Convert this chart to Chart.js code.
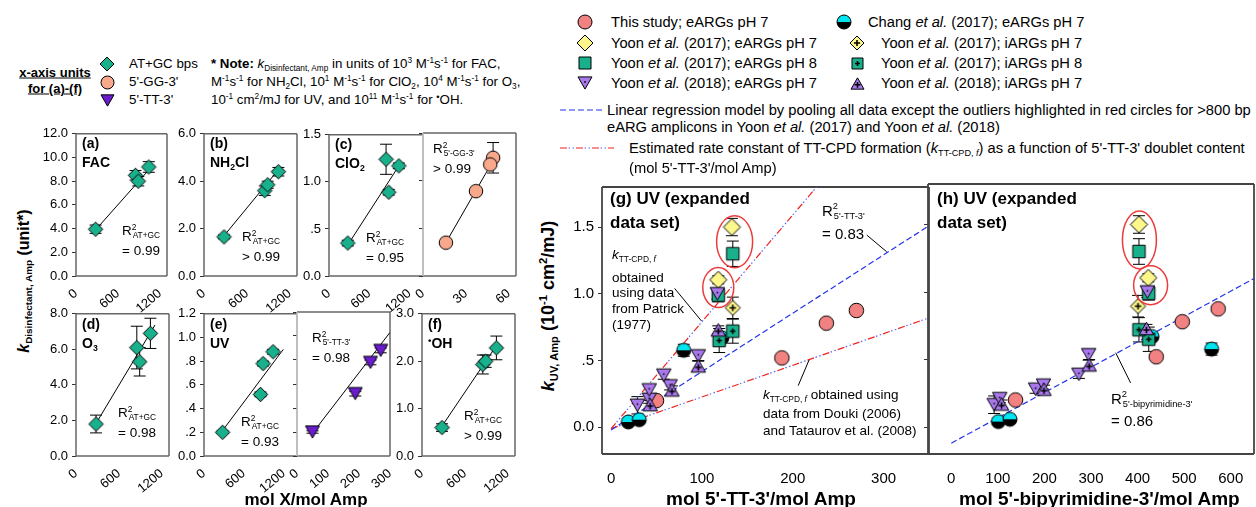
<!DOCTYPE html>
<html>
<head>
<meta charset="utf-8">
<script src="https://cdn.jsdelivr.net/npm/chart.js"></script>
<style>
body{margin:0;width:1256px;height:507px;position:relative;background:#fff;overflow:hidden;
  font-family:"Liberation Sans",Arial,sans-serif;color:#000}
.t{position:absolute;white-space:nowrap;line-height:1;transform:translateY(-50%)}
.c{position:absolute}
sub{font-size:.62em;vertical-align:-.35em;line-height:0}
sup{font-size:.62em;vertical-align:.65em;line-height:0}
.dot{font-size:.7em;vertical-align:.45em;line-height:0}
</style>
</head>
<body>
<script>
// ---------- data: panels (a)-(f), one value per amplicon ----------
var atgc = [280, 850, 890, 1040];   // AT+GC bps
var gg53 = [16, 49, 37, 47];        // 5'-GG-3'
var tt53 = [50, 188, 237, 270];     // 5'-TT-3'

var kFAC = [3.95, 8.5, 8.0, 9.2],      errFAC = [0.35, 0.4, 0.4, 0.45];
var kNH2Cl = [1.65, 3.6, 3.85, 4.4],   errNH2Cl = [0.08, 0.2, 0.15, 0.18];
var kClO2 = [0.35, 1.24, 0.89, 1.17],  errClO2 = [0.03, 0.16, 0.03, 0.03];
var kO3 = [1.8, 6.1, 5.3, 6.9],        errO3 = [0.5, 1.2, 0.8, 0.85];
var kUV = [0.2, 0.52, 0.78, 0.88],     errUV = [0.01, 0.02, 0.02, 0.02];
var kOH = [0.6, 1.93, 2.0, 2.28],      errOH = [0.08, 0.2, 0.13, 0.25];

// regression lines as drawn (end points)
var fitFAC = [[271, 3.83], [1100, 9.35]];
var fitNH2Cl = [[240, 1.55], [1030, 4.45]];
var fitClO2 = [[280, 0.33], [1040, 1.17]];
var fitGG = [[16, 0.35], [49, 1.21]];
var fitO3 = [[256, 1.67], [1104, 7.37]];
var fitUVbp = [[260, 0.2], [1194, 0.9]];
var fitUVtt = [[50, 0.19], [300, 1.03]];
var fitOH = [[266, 0.6], [1049, 2.35]];

// ---------- data: panels (g) and (h) ----------
var thisTT = [50, 188, 237, 270], thisBP = [138, 440, 496, 573], thisK = [0.2, 0.52, 0.78, 0.875];
var changTT = [19, 31, 80, 122], changBP = [101, 126, 559, 431], changK = [0.04, 0.057, 0.577, 0.67];
var changErr = [0.02, 0.02, 0.045, 0.02];
var y17e7TT = [133, 118], y17e7BP = [403, 423], y17e7K = [1.5, 1.105], y17e7Err = [0.065, 0.03];
var y17i7TT = [134], y17i7BP = [401], y17i7K = [0.895], y17i7Err = [0.08];
var y17e8TT = [134, 118], y17e8BP = [403, 424], y17e8K = [1.3, 0.99], y17e8Err = [0.095, 0.05];
var y17i8TT = [119, 134], y17i8BP = [424, 403], y17i8K = [0.65, 0.72], y17i8Err = [0.09, 0.09];
var y18eTT = [29, 42, 42, 65, 58, 96, 117];
var y18eBP = [92, 104, 181, 198, 274, 295, 421];
var y18eK = [0.165, 0.21, 0.28, 0.31, 0.39, 0.535, 1.0];
var y18eErr = [0.065, 0.03, 0.03, 0.03, 0.03, 0.04, 0.04];
var y18iTT = [43, 67, 96, 118], y18iBP = [108, 199, 296, 419], y18iK = [0.17, 0.28, 0.46, 0.73];
var y18iErr = [0.03, 0.03, 0.04, 0.03];

var lineTT = [[0, -0.02], [350, 1.51]];     // pooled regression vs 5'-TT-3'
var linePatrick = [[0, -0.01], [240, 1.91]];
var lineDouki = [[0, -0.01], [350, 0.82]];
var lineBP = [[0, -0.12], [650, 1.10]];     // pooled regression vs bipyrimidine

// tick values
var tk1300 = [0, 600, 1200], tkGG = [0, 30, 60], tkTT = [0, 100, 200, 300];
var tkG = [0, 100, 200, 300], tkH = [0, 100, 200, 300, 400, 500, 600];
var yA = [0, 2, 4, 6, 8, 10, 12], yB = [0, 2, 4, 6], yC = [0, 0.5, 1, 1.5];
var yD = [0, 2, 4, 6, 8], yE = [0, 0.2, 0.4, 0.6, 0.8, 1.0, 1.2], yF = [0, 1, 2, 3];
var yGH = [0, 0.5, 1, 1.5];

// ---------- colours ----------
var teal = '#19b08c', salmon = '#f9a98b', violet = '#6a1ccc', coral = '#f28282',
    yellow = '#fdf68a', lilac = '#a878ec', cyan = '#00e5f0';

Chart.defaults.font.family = '"Liberation Sans", Arial, sans-serif';
Chart.defaults.color = '#000';

function drawMark(g, x, y, kind, fill, size, extra) {
  var r = size / 2;
  g.lineWidth = 1; g.strokeStyle = '#000'; g.fillStyle = fill;
  g.beginPath();
  if (kind == 'circle') g.arc(x, y, r, 0, 2 * Math.PI);
  else if (kind == 'diamond') { g.moveTo(x, y - r); g.lineTo(x + r, y); g.lineTo(x, y + r); g.lineTo(x - r, y); g.closePath(); }
  else if (kind == 'square') g.rect(x - r, y - r, size, size);
  else if (kind == 'down') { var h = size * 0.87; g.moveTo(x - r, y - h / 2); g.lineTo(x + r, y - h / 2); g.lineTo(x, y + h / 2); g.closePath(); }
  else if (kind == 'up') { var h2 = size * 0.87; g.moveTo(x - r, y + h2 / 2); g.lineTo(x + r, y + h2 / 2); g.lineTo(x, y - h2 / 2); g.closePath(); }
  if (kind == 'half') {
    g.fillStyle = '#000'; g.beginPath(); g.arc(x, y, r, 0, Math.PI); g.fill();
    g.fillStyle = fill; g.beginPath(); g.arc(x, y, r, Math.PI, 2 * Math.PI); g.fill();
    g.beginPath(); g.arc(x, y, r, 0, 2 * Math.PI); g.stroke();
    return;
  }
  g.fill(); g.stroke();
  if (extra == 'plus') {
    var p = size * 0.22, cy = kind == 'up' ? y + size * 0.1 : y;
    g.lineWidth = 1.6; g.beginPath();
    g.moveTo(x - p, cy); g.lineTo(x + p, cy); g.moveTo(x, cy - p); g.lineTo(x, cy + p); g.stroke();
  }
  if (extra == 'dot') {
    g.fillStyle = '#000'; g.beginPath(); g.arc(x, y - size * 0.08, 0.9, 0, 2 * Math.PI); g.fill();
  }
}

function mk(kind, fill, size, extra) {
  var c = document.createElement('canvas');
  var s = Math.ceil(size + 4);
  c.width = s; c.height = s;
  drawMark(c.getContext('2d'), s / 2, s / 2, kind, fill, size, extra);
  return c;
}

function icon(x, y, kind, fill, size, extra) {
  var c = mk(kind, fill, size, extra);
  c.className = 'c';
  c.style.left = (x - c.width / 2) + 'px';
  c.style.top = (y - c.height / 2) + 'px';
  document.body.appendChild(c);
}

function txt(x, y, html, css) {
  var d = document.createElement('div');
  d.className = 't';
  d.style.left = x + 'px'; d.style.top = y + 'px';
  d.innerHTML = html;
  if (css) d.style.cssText += css;
  document.body.appendChild(d);
  return d;
}

function pts(xs, ys) { return xs.map(function (x, i) { return {x: x, y: ys[i]}; }); }
function sc(xs, ys, style, errs, order, cap) {
  return {data: pts(xs, ys), pointStyle: style, pointRadius: 7, errs: errs, cap: cap || 6, order: order || 1, showLine: false};
}
function seg(s, color, dash, w, off) {
  return {data: s.map(function (p) { return {x: p[0], y: p[1]}; }), showLine: true, pointRadius: 0,
    borderColor: color || '#000', borderWidth: w || 1, borderDash: dash || [], borderDashOffset: off || 0, order: 20};
}

var framePlugin = {
  id: 'frame',
  beforeDatasetsDraw: function (chart, args, o) {
    var a = chart.chartArea, g = chart.ctx, sides = o.sides || {};
    g.save(); g.lineWidth = o.width || 1.5;
    [['top', a.left, a.top, a.right, a.top], ['bottom', a.left, a.bottom, a.right, a.bottom],
     ['left', a.left, a.top, a.left, a.bottom], ['right', a.right, a.top, a.right, a.bottom]].forEach(function (s) {
      g.strokeStyle = sides[s[0]] || o.color || '#666';
      g.beginPath(); g.moveTo(s[1], s[2]); g.lineTo(s[3], s[4]); g.stroke();
    });
    g.restore();
  }
};

var errPlugin = {
  id: 'errs',
  beforeDatasetsDraw: function (chart) {
    var g = chart.ctx, xs = chart.scales.x, ys = chart.scales.y, a = chart.chartArea;
    g.save(); g.beginPath(); g.rect(a.left, a.top, a.right - a.left, a.bottom - a.top); g.clip();
    g.strokeStyle = '#000'; g.lineWidth = 1;
    chart.data.datasets.forEach(function (ds) {
      if (!ds.errs) return;
      ds.data.forEach(function (p, i) {
        var e = ds.errs[i]; if (!e) return;
        var x = xs.getPixelForValue(p.x), y1 = ys.getPixelForValue(p.y - e), y2 = ys.getPixelForValue(p.y + e), c = ds.cap;
        g.beginPath();
        g.moveTo(x, y1); g.lineTo(x, y2);
        g.moveTo(x - c, y1); g.lineTo(x + c, y1); g.moveTo(x - c, y2); g.lineTo(x + c, y2);
        g.stroke();
      });
    });
    g.restore();
  }
};

var notePlugin = {
  id: 'notes',
  afterDatasetsDraw: function (chart, args, o) {
    var g = chart.ctx, xs = chart.scales.x, ys = chart.scales.y;
    g.save();
    (o.ovals || []).forEach(function (e) {
      g.strokeStyle = '#ec3b3b'; g.lineWidth = 1.5; g.beginPath();
      g.ellipse(xs.getPixelForValue(e.x), ys.getPixelForValue(e.y), e.rx, e.ry, 0, 0, 2 * Math.PI); g.stroke();
    });
    (o.leaders || []).forEach(function (l) {
      g.strokeStyle = '#000'; g.lineWidth = 1; g.beginPath();
      g.moveTo(xs.getPixelForValue(l[0]), ys.getPixelForValue(l[1]));
      g.lineTo(xs.getPixelForValue(l[2]), ys.getPixelForValue(l[3])); g.stroke();
    });
    g.restore();
  }
};

// box = plot area [left, top, right, bottom] on the page
function panel(box, o) {
  var pt = 10, pr = 14, yw = o.yw, xh = o.xh;
  var cv = document.createElement('canvas');
  cv.className = 'c';
  cv.width = box[2] - box[0] + yw + pr; cv.height = box[3] - box[1] + pt + xh;
  cv.style.left = (box[0] - yw) + 'px'; cv.style.top = (box[1] - pt) + 'px';
  document.body.appendChild(cv);
  function setTicks(vals) { return function (s) { s.ticks = vals.map(function (v) { return {value: v}; }); }; }
  new Chart(cv, {
    type: 'scatter',
    data: {datasets: o.datasets},
    options: {
      responsive: false, animation: false, events: [],
      layout: {padding: {top: pt, right: pr, left: 0, bottom: 0}},
      plugins: {legend: {display: false}, tooltip: {enabled: false}, frame: o.frame || {}, notes: o.notes || {}},
      scales: {
        x: {type: 'linear', min: o.x[0], max: o.x[1], afterBuildTicks: setTicks(o.xt),
          afterFit: function (s) { s.height = xh; },
          grid: {display: false}, border: {display: false},
          ticks: {font: {size: o.xf}, color: '#000', minRotation: o.rot, maxRotation: o.rot, padding: o.xpad,
            autoSkip: false, callback: function (v) { return String(v); }}},
        y: {type: 'linear', min: o.y[0], max: o.y[1], afterBuildTicks: setTicks(o.yt),
          afterFit: function (s) { s.width = yw; },
          grid: {display: true, drawOnChartArea: false, drawTicks: true, tickLength: 4, color: '#333'},
          border: {display: false},
          ticks: {display: !!o.ylab, font: {size: o.yf || 13}, color: '#000', padding: 4, autoSkip: false,
            callback: function (v) { return o.ylab ? o.ylab(v) : ''; }}}
      }
    },
    plugins: [framePlugin, errPlugin, notePlugin]
  });
}

function fix1(v) { return v.toFixed(1); }
function dec(v) { return v == 0 ? '0.0' : (v < 1 ? String(v).replace('0.', '.') : v.toFixed(1)); }

var dia = mk('diamond', teal, 14.5), gcirc = mk('circle', salmon, 13.5), vtri = mk('down', violet, 14);
var small = {yw: 40, xh: 40, xf: 13, yf: 13, rot: 40, xpad: 2};
function S(extra) { return Object.assign({}, small, extra); }
var grey = {color: '#666'};
var div = '#bbbbbb';

// (a)
panel([76, 132, 167, 276], S({x: [0, 1300], xt: tk1300, y: [0, 12], yt: yA, ylab: fix1, frame: grey,
  datasets: [sc(atgc, kFAC, dia, errFAC), seg(fitFAC)]}));
// (b)
panel([204, 132, 297, 276], S({x: [0, 1300], xt: tk1300, y: [0, 6], yt: yB, ylab: fix1, frame: grey,
  datasets: [sc(atgc, kNH2Cl, dia, errNH2Cl), seg(fitNH2Cl)]}));
// (c)
panel([329, 133, 423, 276], S({x: [0, 1400], xt: tk1300, y: [0, 1.5], yt: yC, ylab: dec,
  frame: {color: '#666', sides: {right: div}},
  datasets: [sc(atgc, kClO2, dia, errClO2), seg(fitClO2)]}));
panel([423, 133, 516, 276], S({yw: 14, x: [0, 65], xt: tkGG, y: [0, 1.5], yt: yC,
  frame: {color: '#666', sides: {left: div}},
  datasets: [sc(gg53, kClO2, gcirc, [0, 0.16, 0, 0]), seg(fitGG)]}));
// (d)
panel([76, 312, 169, 456], S({x: [0, 1300], xt: tk1300, y: [0, 8], yt: yD, ylab: fix1, frame: grey,
  datasets: [sc(atgc, kO3, dia, errO3), seg(fitO3)]}));
// (e)
panel([204, 312, 297, 456], S({x: [0, 1400], xt: tk1300, y: [0, 1.2], yt: yE, ylab: dec,
  frame: {color: '#666', sides: {right: div}},
  datasets: [sc(atgc, kUV, dia, errUV), seg(fitUVbp)]}));
panel([297, 312, 390, 456], S({yw: 14, x: [0, 300], xt: tkTT, y: [0, 1.2], yt: yE,
  frame: {color: '#666', sides: {left: div}},
  datasets: [sc(tt53, kUV, vtri, errUV), seg(fitUVtt)]}));
// (f)
panel([422, 312, 515, 456], S({x: [0, 1300], xt: tk1300, y: [0, 3], yt: yF, ylab: fix1, frame: grey,
  datasets: [sc(atgc, kOH, dia, errOH), seg(fitOH)]}));

// markers for (g) and (h)
var mThis = mk('circle', coral, 14.5), mChang = mk('half', cyan, 14),
    mY17e7 = mk('diamond', yellow, 17), mY17i7 = mk('diamond', yellow, 15, 'plus'),
    mY17e8 = mk('square', teal, 12.5), mY17i8 = mk('square', teal, 12.5, 'plus'),
    mY18e = mk('down', lilac, 14.5, 'dot'), mY18i = mk('up', lilac, 14.5, 'plus');

function uvSets(xThis, xChang, x1, x2, x3, x4, x5, x6) {
  return [
    sc(xThis, thisK, mThis, null, 9),
    sc(xChang, changK, mChang, changErr, 8),
    sc(x3, y17e8K, mY17e8, y17e8Err, 6),
    sc(x4, y17i8K, mY17i8, y17i8Err, 5),
    sc(x1, y17e7K, mY17e7, y17e7Err, 4),
    sc(x2, y17i7K, mY17i7, y17i7Err, 3),
    sc(x5, y18eK, mY18e, y18eErr, 2),
    sc(x6, y18iK, mY18i, y18iErr, 1)
  ];
}
var big = {yw: 40, xh: 44, xf: 15, yf: 15, rot: 0, xpad: 8};

// (g)
panel([602, 184, 929, 454], Object.assign({}, big, {x: [-10, 350], xt: tkG, y: [-0.2, 1.8], yt: yGH, ylab: dec,
  frame: {color: '#444', width: 1.8},
  notes: {ovals: [{x: 136, y: 1.39, rx: 18, ry: 26}, {x: 118, y: 1.047, rx: 15.5, ry: 20}],
    leaders: [[281.5, 1.44, 303.4, 1.315], [70, 1.04, 99.7, 0.795], [206, 0.312, 218, 0.505]]},
  datasets: uvSets(thisTT, changTT, y17e7TT, y17i7TT, y17e8TT, y17i8TT, y18eTT, y18iTT).concat([
    seg(lineTT, '#2233ee', [6, 3], 1.2),
    seg(linePatrick, '#ee2222', [7, 9], 1.2), seg(linePatrick, '#5566ff', [1.5, 2.5, 1.5, 10.5], 1.2, -8.5),
    seg(lineDouki, '#ee2222', [7, 9], 1.2), seg(lineDouki, '#5566ff', [1.5, 2.5, 1.5, 10.5], 1.2, -8.5)])}));
// (h)
panel([928, 184, 1254, 454], Object.assign({}, big, {yw: 8, x: [-50, 650], xt: tkH, y: [-0.2, 1.8], yt: yGH,
  frame: {color: '#444', width: 1.8},
  notes: {ovals: [{x: 404, y: 1.386, rx: 17, ry: 29}, {x: 428, y: 1.05, rx: 17, ry: 19.5}],
    leaders: [[385, 0.327, 353, 0.55]]},
  datasets: uvSets(thisBP, changBP, y17e7BP, y17i7BP, y17e8BP, y17i8BP, y18eBP, y18iBP).concat([
    seg(lineBP, '#2233ee', [6, 3], 1.2)])}));

// ---------- text: left block ----------
var fs = 'font-size:13.5px;';
var nf = 'font-size:13.3px';
txt(55, 72, 'x-axis units', 'font-size:13px;font-weight:bold;text-decoration:underline;transform:translate(-50%,-50%)');
txt(55, 88, 'for (a)-(f)', 'font-size:13px;font-weight:bold;text-decoration:underline;transform:translate(-50%,-50%)');
icon(107, 64, 'diamond', teal, 14);
icon(107, 82, 'circle', salmon, 13);
icon(107, 100, 'down', violet, 13);
txt(129, 64, 'AT+GC bps', nf);
txt(129, 82, "5'-GG-3'", nf);
txt(129, 100, "5'-TT-3'", nf);
txt(211, 64, '<b>* Note:</b> <i>k</i><sub>Disinfectant, Amp</sub> in units of 10<sup>3</sup> M<sup>-1</sup>s<sup>-1</sup> for FAC,', nf);
txt(211, 82, 'M<sup>-1</sup>s<sup>-1</sup> for NH<sub>2</sub>Cl, 10<sup>1</sup> M<sup>-1</sup>s<sup>-1</sup> for ClO<sub>2</sub>, 10<sup>4</sup> M<sup>-1</sup>s<sup>-1</sup> for O<sub>3</sub>,', nf);
txt(211, 100, '10<sup>-1</sup> cm<sup>2</sup>/mJ for UV, and 10<sup>11</sup> M<sup>-1</sup>s<sup>-1</sup> for <span class="dot">&#8226;</span>OH.', nf);

txt(24, 281, '<i>k</i><sub>Disinfectant, Amp</sub> (unit*)', 'font-size:16px;font-weight:bold;transform:translate(-50%,-50%) rotate(-90deg)');
txt(306, 499, 'mol X/mol Amp', 'font-size:17px;font-weight:bold;transform:translate(-50%,-50%)');

// panel captions and R2 labels
function cap(x, y, a, b) { txt(x, y, a, 'font-size:14px;font-weight:bold'); txt(x, y + 19, b, 'font-size:14px;font-weight:bold'); }
cap(82, 143, '(a)', 'FAC');
cap(210, 143, '(b)', 'NH<sub>2</sub>Cl');
cap(335, 144, '(c)', 'ClO<sub>2</sub>');
cap(82, 324, '(d)', 'O<sub>3</sub>');
cap(210, 324, '(e)', 'UV');
cap(428, 324, '(f)', '<span class="dot">&#8226;</span>OH');
function r2(x, y, sub, val) {
  txt(x, y, 'R<sup>2</sup><sub style="margin-left:-.45em">' + sub + '</sub>', fs);
  txt(x, y + 20, val, fs);
}
r2(122, 231, 'AT+GC', '= 0.99');
r2(242, 237, 'AT+GC', '&gt; 0.99');
r2(366, 238, 'AT+GC', '= 0.95');
r2(433, 149, "5'-GG-3'", '&gt; 0.99');
r2(118, 413, 'AT+GC', '= 0.98');
r2(241, 422, 'AT+GC', '= 0.93');
r2(312, 338, "5'-TT-3'", '= 0.98');
r2(464, 416, 'AT+GC', '&gt; 0.99');

// ---------- text: right block ----------
var lf = 'font-size:14.7px';
icon(585, 22, 'circle', coral, 14);
icon(585, 43, 'diamond', yellow, 16);
icon(585, 63, 'square', teal, 12);
icon(585, 83, 'down', lilac, 14, 'dot');
txt(611, 22, 'This study; eARGs pH 7', lf);
txt(611, 43, 'Yoon <i>et al.</i> (2017); eARGs pH 7', lf);
txt(611, 63, 'Yoon <i>et al.</i> (2017); eARGs pH 8', lf);
txt(611, 83, 'Yoon <i>et al.</i> (2018); eARGs pH 7', lf);
icon(844, 22, 'half', cyan, 14);
icon(857, 43, 'diamond', yellow, 14, 'plus');
icon(857, 63, 'square', teal, 11, 'plus');
icon(857, 83, 'up', lilac, 13, 'plus');
txt(868, 22, 'Chang <i>et al.</i> (2017); eARGs pH 7', lf);
txt(881, 43, 'Yoon <i>et al.</i> (2017); iARGs pH 7', lf);
txt(881, 63, 'Yoon <i>et al.</i> (2017); iARGs pH 8', lf);
txt(881, 83, 'Yoon <i>et al.</i> (2018); iARGs pH 7', lf);

function legLine(x1, x2, y, parts) {
  var c = document.createElement('canvas');
  c.className = 'c'; c.width = x2 - x1; c.height = 4;
  c.style.left = x1 + 'px'; c.style.top = (y - 2) + 'px';
  var g = c.getContext('2d');
  parts.forEach(function (p) {
    g.strokeStyle = p[0]; g.lineWidth = 1.2; g.setLineDash(p[1]); g.lineDashOffset = p[2] || 0;
    g.beginPath(); g.moveTo(0, 2); g.lineTo(c.width, 2); g.stroke();
  });
  document.body.appendChild(c);
}
legLine(560, 602, 110, [['#2233ee', [6, 3]]]);
legLine(560, 614, 148, [['#ee2222', [7, 9]], ['#5566ff', [1.5, 2.5, 1.5, 10.5], -8.5]]);
txt(607, 110, 'Linear regression model by pooling all data except the outliers highlighted in red circles for &gt;800 bp', lf);
txt(607, 127, 'eARG amplicons in Yoon <i>et al.</i> (2017) and Yoon <i>et al.</i> (2018)', lf);
txt(629, 148, 'Estimated rate constant of TT-CPD formation (<i>k</i><sub>TT-CPD, <i>f</i></sub>) as a function of 5\'-TT-3\' doublet content', lf);
txt(629, 168, "(mol 5'-TT-3'/mol Amp)", lf);

// panel (g)/(h) annotations
var hb = 'font-size:17px;font-weight:bold';
txt(610, 198, '(g) UV (expanded', hb); txt(610, 222, 'data set)', hb);
txt(937, 198, '(h) UV (expanded', hb); txt(937, 222, 'data set)', hb);
txt(822, 210, 'R<sup>2</sup><sub style="margin-left:-.45em">5\'-TT-3\'</sub>', 'font-size:15px');
txt(822, 233, '= 0.83', 'font-size:15px');
var an = 'font-size:13.5px';
txt(612, 255, '<i>k</i><sub>TT-CPD, <i>f</i></sub>', an);
txt(612, 278, 'obtained', an);
txt(612, 293, 'using data', an);
txt(612, 309, 'from Patrick', an);
txt(612, 325, '(1977)', an);
txt(763, 395, '<i>k</i><sub>TT-CPD, <i>f</i></sub> obtained using', an);
txt(763, 414, 'data from Douki (2006)', an);
txt(763, 431, 'and Tataurov et al. (2008)', an);
txt(1111, 398, 'R<sup>2</sup><sub style="margin-left:-.45em">5\'-bipyrimidine-3\'</sub>', 'font-size:15px');
txt(1111, 420, '= 0.86', 'font-size:15px');

txt(548, 306, '<i>k</i><sub>UV, Amp</sub> (10<sup>-1</sup> cm<sup>2</sup>/mJ)', 'font-size:18px;font-weight:bold;transform:translate(-50%,-50%) rotate(-90deg)');
txt(666, 498, "mol 5'-TT-3'/mol Amp", 'font-size:19px;font-weight:bold');
txt(959, 498, "mol 5'-bipyrimidine-3'/mol Amp", 'font-size:19px;font-weight:bold');
</script>
</body>
</html>
